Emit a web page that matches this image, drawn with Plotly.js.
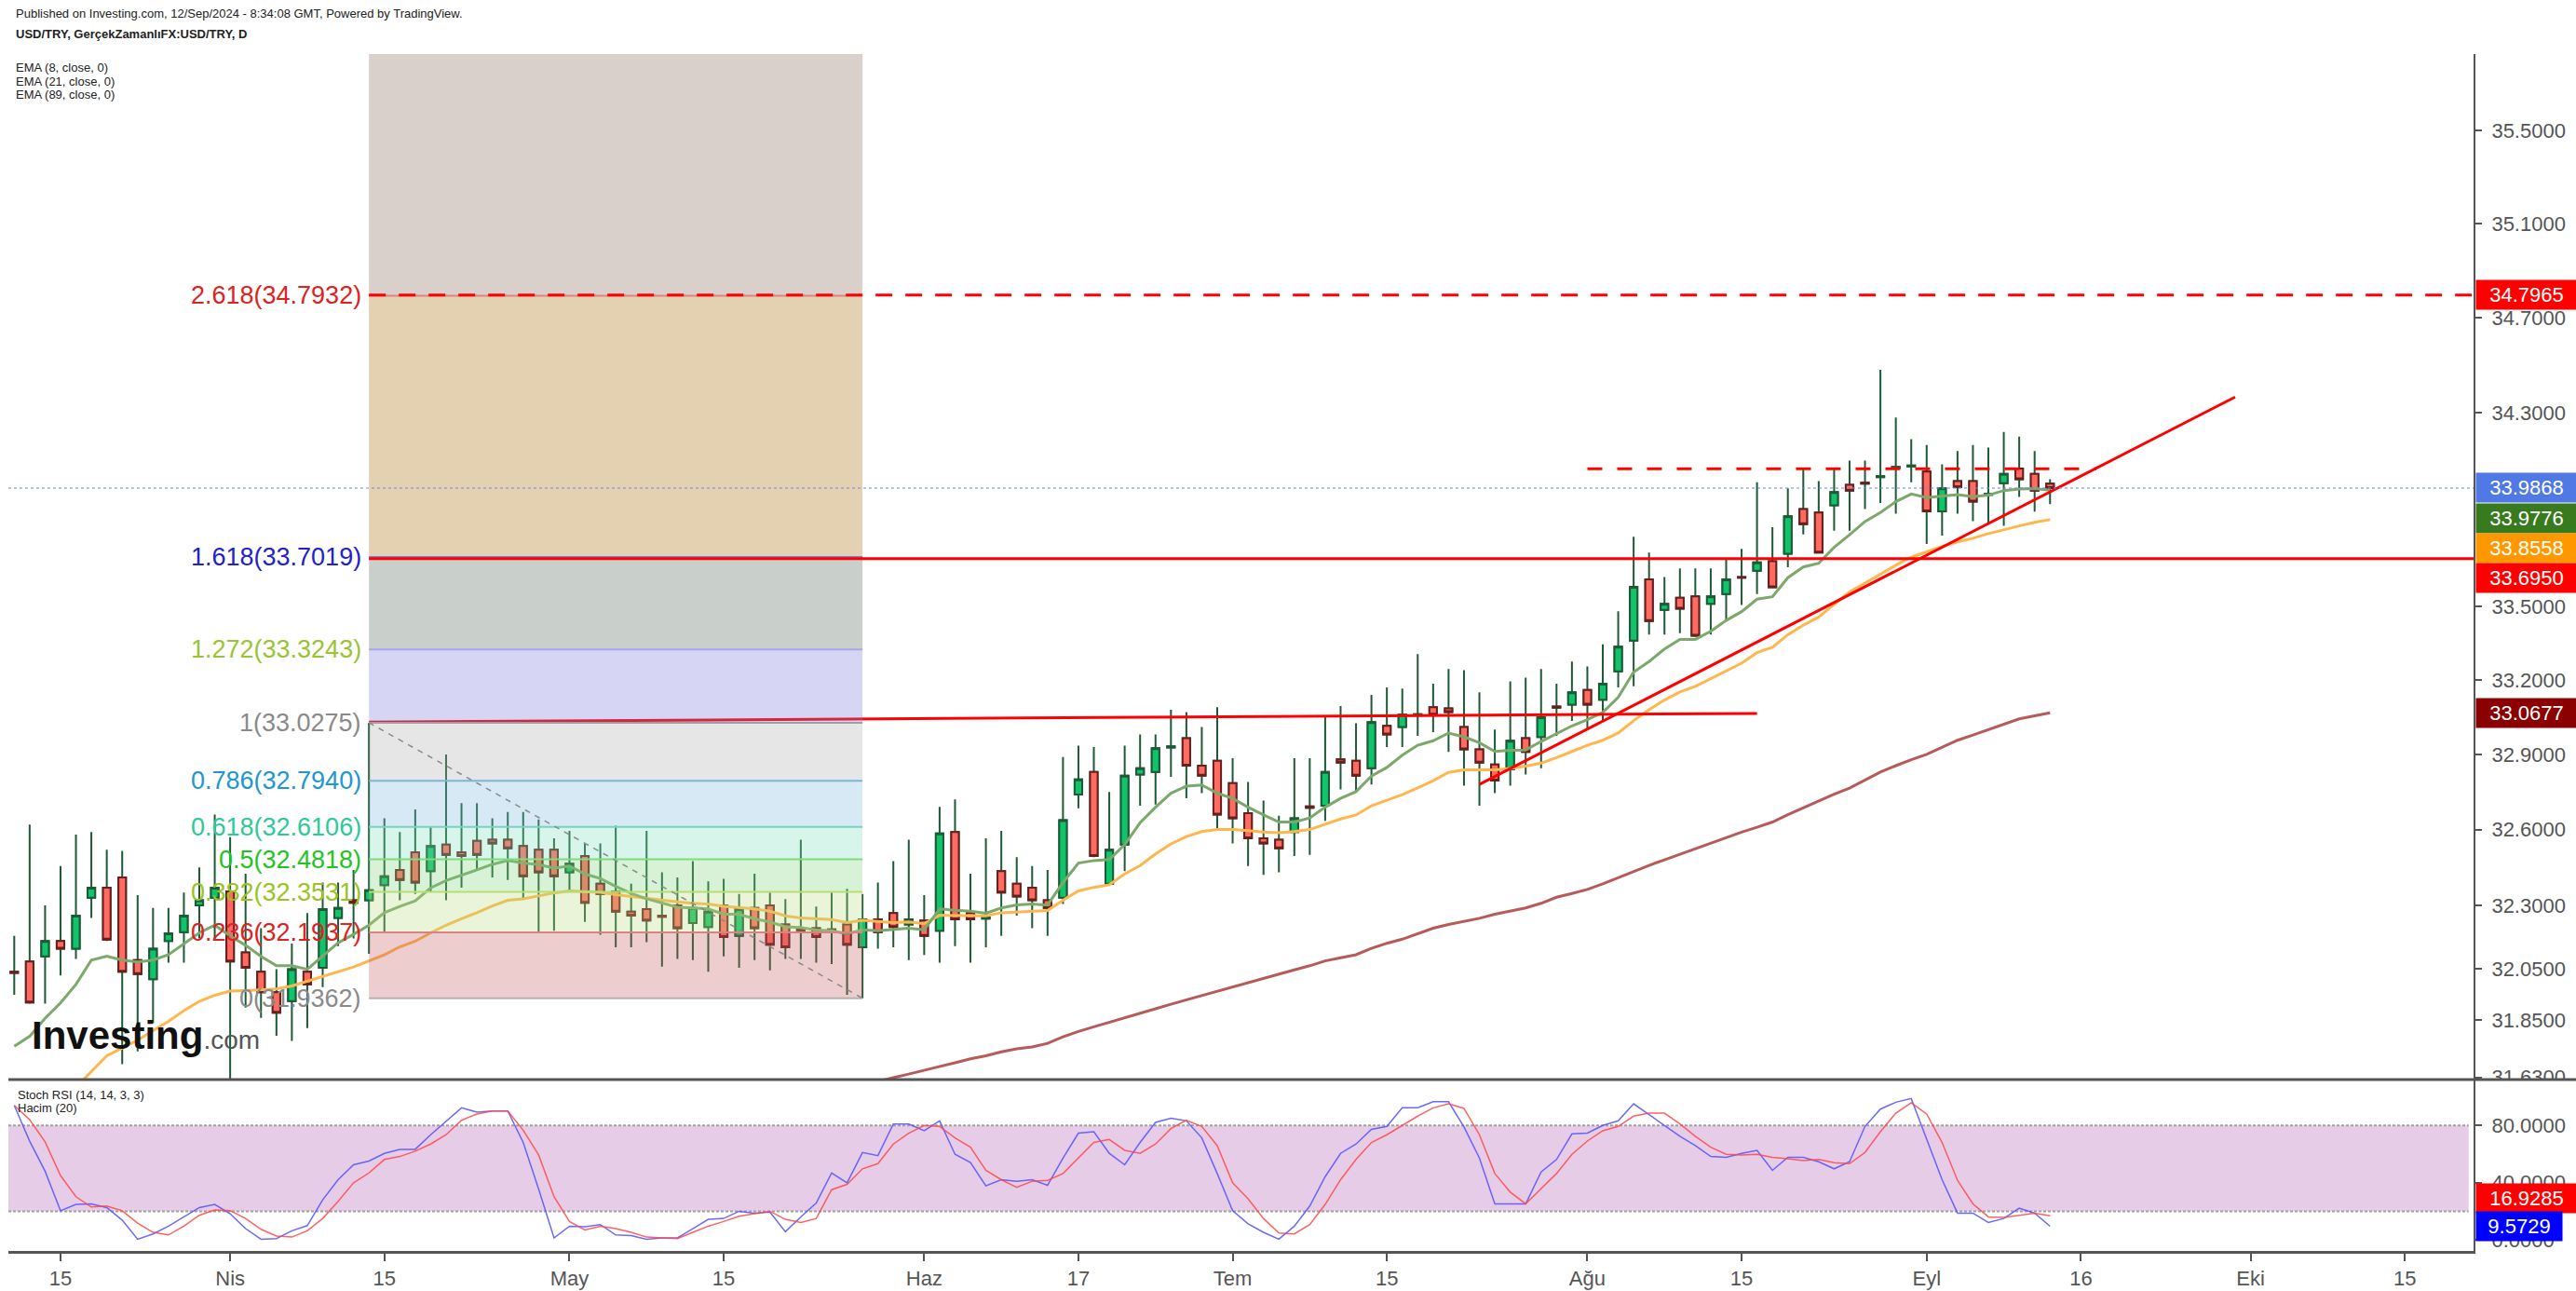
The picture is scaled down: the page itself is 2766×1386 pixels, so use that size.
<!DOCTYPE html>
<html><head><meta charset="utf-8">
<script src="https://cdn.plot.ly/plotly-3.0.1.min.js"></script>
<style>html,body{margin:0;padding:0;background:#fff;}#chart{width:2766px;height:1386px;}</style>
</head><body><div id="chart"></div>
<script>
// ---------- DATA ----------
const dates = [
"2024-03-12","2024-03-13","2024-03-14","2024-03-15","2024-03-18","2024-03-19","2024-03-20","2024-03-21","2024-03-22","2024-03-25","2024-03-26","2024-03-27","2024-03-28","2024-03-29",
"2024-04-01","2024-04-02","2024-04-03","2024-04-04","2024-04-05","2024-04-08","2024-04-09","2024-04-10","2024-04-11","2024-04-12","2024-04-15","2024-04-16","2024-04-17","2024-04-18","2024-04-19","2024-04-22","2024-04-23","2024-04-24","2024-04-25","2024-04-26","2024-04-29","2024-04-30",
"2024-05-01","2024-05-02","2024-05-03","2024-05-06","2024-05-07","2024-05-08","2024-05-09","2024-05-10","2024-05-13","2024-05-14","2024-05-15","2024-05-16","2024-05-17","2024-05-20","2024-05-21","2024-05-22","2024-05-23","2024-05-24","2024-05-27","2024-05-28","2024-05-29","2024-05-30","2024-05-31",
"2024-06-03","2024-06-04","2024-06-05","2024-06-06","2024-06-07","2024-06-10","2024-06-11","2024-06-12","2024-06-13","2024-06-14","2024-06-17","2024-06-18","2024-06-19","2024-06-20","2024-06-21","2024-06-24","2024-06-25","2024-06-26","2024-06-27","2024-06-28",
"2024-07-01","2024-07-02","2024-07-03","2024-07-04","2024-07-05","2024-07-08","2024-07-09","2024-07-10","2024-07-11","2024-07-12","2024-07-15","2024-07-16","2024-07-17","2024-07-18","2024-07-19","2024-07-22","2024-07-23","2024-07-24","2024-07-25","2024-07-26","2024-07-29","2024-07-30","2024-07-31",
"2024-08-01","2024-08-02","2024-08-05","2024-08-06","2024-08-07","2024-08-08","2024-08-09","2024-08-12","2024-08-13","2024-08-14","2024-08-15","2024-08-16","2024-08-19","2024-08-20","2024-08-21","2024-08-22","2024-08-23","2024-08-26","2024-08-27","2024-08-28","2024-08-29","2024-08-30",
"2024-09-02","2024-09-03","2024-09-04","2024-09-05","2024-09-06","2024-09-09","2024-09-10","2024-09-11","2024-09-12"];

const open = [32.04,32.08,32.10,32.16,32.13,32.33,32.37,32.41,32.085,32.01,32.16,32.195,32.30,32.33,
32.355,32.115,32.04,31.96,31.925,32.04,32.055,32.25,32.32,32.32,32.38,32.44,32.51,32.435,32.54,32.51,32.555,32.56,32.56,32.535,32.52,32.52,
32.43,32.495,32.385,32.355,32.275,32.285,32.26,32.30,32.23,32.215,32.30,32.18,32.29,32.30,32.225,32.21,32.21,32.206,32.225,32.135,32.245,32.27,32.225,
32.24,32.20,32.59,32.27,32.248,32.435,32.385,32.37,32.32,32.33,32.74,32.83,32.385,32.54,32.82,32.83,32.928,32.965,32.855,32.875,
32.785,32.665,32.565,32.56,32.59,32.692,32.695,32.88,32.875,32.845,33.015,33.01,33.058,33.09,33.085,33.01,32.92,32.86,32.84,32.965,32.97,33.093,33.10,
33.16,33.12,33.235,33.36,33.61,33.485,33.535,33.54,33.51,33.55,33.62,33.645,33.685,33.715,33.90,33.885,33.915,34.00,34.009,34.032,34.07,34.076,
34.055,33.89,34.015,34.015,33.958,34.007,34.068,34.045,34.005];

const high = [32.18,32.62,32.30,32.455,32.58,32.59,32.52,32.515,32.34,32.29,32.29,32.35,32.45,32.66,
32.57,32.425,32.21,32.05,32.15,32.27,32.39,32.39,32.44,33.0275,32.645,32.59,32.68,32.61,32.90,32.705,32.705,32.645,32.67,32.67,32.64,32.565,
32.595,32.545,32.545,32.615,32.385,32.595,32.43,32.41,32.475,32.395,32.405,32.345,32.425,32.35,32.325,32.56,32.295,32.35,32.365,32.345,32.39,32.475,32.56,
32.34,32.69,32.72,32.425,32.565,32.595,32.49,32.455,32.44,32.89,32.935,32.93,32.75,32.935,32.98,32.98,33.08,33.07,33.01,33.09,
32.885,32.79,32.715,32.655,32.885,32.885,33.05,33.095,33.025,33.14,33.17,33.165,33.305,33.185,33.245,33.24,33.15,33.00,33.195,33.21,33.245,33.185,33.275,
33.255,33.345,33.48,33.785,33.72,33.62,33.655,33.655,33.655,33.695,33.735,34.01,33.825,33.985,34.07,34.015,34.07,34.10,34.10,34.48,34.28,34.19,
34.165,34.085,34.14,34.165,34.155,34.22,34.20,34.14,34.023];

const low = [31.95,31.915,31.915,32.025,32.09,32.25,32.16,31.68,31.73,31.84,32.075,32.075,32.17,32.165,
31.60,31.90,31.86,31.79,31.77,31.82,31.98,32.14,32.17,32.11,32.19,32.32,32.345,32.355,32.32,32.37,32.44,32.41,32.40,32.325,32.195,32.20,
32.355,32.235,32.185,32.135,32.135,32.155,32.06,32.09,32.085,32.04,32.10,32.055,32.085,32.045,32.09,32.09,32.075,32.07,31.95,31.9362,32.13,32.135,32.085,
32.105,32.075,32.14,32.075,32.135,32.18,32.26,32.21,32.18,32.305,32.685,32.49,32.38,32.435,32.695,32.70,32.81,32.725,32.745,32.605,
32.545,32.455,32.42,32.43,32.495,32.50,32.635,32.76,32.75,32.78,32.93,32.93,32.975,32.99,32.91,32.775,32.695,32.745,32.775,32.82,32.845,32.975,33.035,
33.00,33.035,33.17,33.175,33.385,33.385,33.39,33.375,33.385,33.44,33.505,33.55,33.577,33.66,33.795,33.72,33.81,33.81,33.90,33.925,33.88,34.01,
33.755,33.79,33.88,33.85,33.835,33.83,33.95,33.889,33.92];

const close = [32.035,31.92,32.16,32.13,32.26,32.37,32.165,32.04,32.03,32.13,32.19,32.26,32.32,32.37,
32.08,32.055,31.96,31.88,32.05,31.99,32.285,32.29,32.31,32.36,32.415,32.40,32.39,32.535,32.50,32.495,32.50,32.545,32.525,32.415,32.43,32.415,
32.465,32.31,32.345,32.275,32.26,32.24,32.255,32.21,32.29,32.275,32.175,32.285,32.21,32.145,32.135,32.20,32.175,32.204,32.145,32.245,32.195,32.215,32.245,
32.18,32.585,32.245,32.245,32.252,32.35,32.335,32.32,32.29,32.637,32.80,32.495,32.52,32.815,32.845,32.925,32.933,32.855,32.815,32.66,
32.645,32.565,32.545,32.525,32.645,32.687,32.83,32.867,32.815,33.03,32.98,33.06,33.062,33.06,33.07,32.92,32.867,32.795,32.955,32.91,33.05,33.088,33.15,
33.10,33.185,33.335,33.58,33.44,33.51,33.49,33.38,33.54,33.61,33.617,33.68,33.578,33.87,33.837,33.72,33.97,33.976,34.005,34.036,34.074,34.08,
33.89,33.985,33.99,33.93,33.962,34.045,34.023,33.976,33.9868];

const ema8 = [31.750,31.788,31.858,31.918,31.990,32.085,32.100,32.085,32.078,32.085,32.106,32.149,32.192,32.222,
32.180,32.143,32.100,32.063,32.063,32.049,32.100,32.153,32.186,32.222,32.271,32.296,32.318,32.369,32.398,32.418,32.440,32.462,32.477,32.467,32.461,32.447,
32.455,32.424,32.406,32.375,32.347,32.326,32.310,32.293,32.290,32.286,32.265,32.265,32.247,32.235,32.216,32.213,32.203,32.200,32.188,32.204,32.200,32.204,32.210,
32.204,32.286,32.281,32.277,32.269,32.290,32.302,32.305,32.301,32.390,32.467,32.477,32.481,32.540,32.627,32.689,32.745,32.773,32.778,32.745,
32.724,32.689,32.658,32.630,32.630,32.646,32.689,32.724,32.751,32.813,32.848,32.897,32.937,32.955,32.986,32.971,32.947,32.912,32.917,32.918,32.952,32.984,33.015,
33.040,33.069,33.130,33.232,33.275,33.326,33.365,33.365,33.398,33.442,33.478,33.529,33.539,33.617,33.661,33.676,33.742,33.793,33.848,33.885,33.930,33.962,
33.947,33.954,33.959,33.951,33.957,33.976,33.982,33.984,33.9776];

const ema21 = [null,null,null,31.53,31.59,31.653,31.713,31.743,31.773,31.810,31.846,31.888,31.924,31.948,
31.964,31.966,31.969,31.972,31.984,32.003,32.021,32.039,32.058,32.082,32.106,32.137,32.159,32.192,32.222,32.247,32.271,32.298,32.320,32.326,32.338,32.349,
32.357,32.354,32.351,32.342,32.335,32.326,32.320,32.314,32.308,32.305,32.296,32.290,32.286,32.277,32.259,32.250,32.247,32.244,32.232,32.241,32.237,32.232,32.235,
32.228,32.261,32.261,32.259,32.259,32.271,32.274,32.277,32.280,32.320,32.357,32.371,32.381,32.424,32.457,32.503,32.543,32.572,32.592,32.600,
32.600,32.596,32.590,32.587,32.592,32.600,32.621,32.642,32.658,32.695,32.717,32.739,32.766,32.795,32.828,32.838,32.838,32.838,32.844,32.853,32.865,32.887,32.912,
32.937,32.957,32.986,33.036,33.080,33.119,33.152,33.174,33.206,33.239,33.268,33.311,33.333,33.384,33.423,33.456,33.507,33.559,33.595,33.632,33.668,33.701,
33.724,33.745,33.764,33.779,33.798,33.815,33.830,33.845,33.8558];

const ema89 = [null,null,null,null,null,null,null,null,null,null,null,null,null,null,
null,null,null,null,null,null,null,null,null,null,null,null,null,null,null,null,null,null,null,null,null,null,
null,null,null,null,null,null,null,null,null,null,null,null,null,null,null,null,null,null,null,31.600,31.615,31.628,31.642,
31.656,31.670,31.686,31.701,31.713,31.728,31.740,31.747,31.761,31.786,31.807,31.825,31.842,31.860,31.878,31.895,31.913,31.930,31.947,31.963,
31.980,31.996,32.013,32.030,32.047,32.063,32.082,32.094,32.106,32.131,32.151,32.167,32.188,32.210,32.225,32.237,32.249,32.265,32.277,32.290,32.308,32.332,32.347,
32.363,32.385,32.410,32.435,32.458,32.480,32.502,32.523,32.545,32.566,32.590,32.609,32.630,32.659,32.687,32.712,32.741,32.765,32.798,32.829,32.855,32.879,
32.900,32.929,32.957,32.978,33.000,33.022,33.043,33.055,33.0677];

const stochK = [94.0,69,48,20.4,24.8,25.2,22.6,13.9,0.5,4.2,9.6,16.1,22.6,24.8,
18.3,7.9,0.5,0.9,6.4,10.0,28.0,42.1,52.5,55.1,60.5,63.3,63.3,73.5,83.2,92.3,89.3,90.1,90.1,68.1,35.6,1.4,
9.6,9.2,10.7,3.5,3.1,0.5,1.4,1.4,7.9,14.4,15.0,20.0,18.7,19.4,5.7,16.1,25.8,46.8,39.9,61.1,58.9,81.0,81.0,
76.3,83.2,59.8,54.0,37.8,42.1,41.0,42.1,38.2,57.2,74.6,75.6,60.5,52.5,68.1,82.1,85.0,83.2,71.3,46.4,
20.4,11.3,5.3,0.5,9.6,23.7,44.2,60.5,67.0,77.2,79.3,92.3,92.3,96.6,96.6,78.9,57.2,25.2,25.2,25.2,47.5,56.2,74.1,
74.6,80.0,83.2,95.1,87.5,80.0,72.4,65.9,58.3,57.7,60.5,62.6,48.6,57.7,57.7,54.6,49.7,54.6,79.3,91.4,96.2,98.8,
70.2,42.1,18.7,18.7,12.2,15.0,22.2,18.7,9.5729];

const stochD = [94.0,84,68.5,45,30.2,23.0,23.7,20.4,11.8,5.3,3.5,9.6,17.2,20.9,
20.4,15.0,7.4,2.7,2.0,6.4,15.0,26.9,39.9,46.8,56.2,58.3,62.0,67.0,73.5,83.6,88.0,90.1,90.1,76.7,59.4,30.2,
12.9,7.0,9.6,7.9,5.3,2.0,1.4,0.9,5.3,9.6,12.9,16.5,18.3,20.0,14.4,12.2,15.0,35.1,38.8,49.7,53.3,67.0,74.6,
80.0,79.3,71.3,64.8,48.6,42.1,36.7,41.0,41.6,46.4,57.2,68.1,70.2,62.6,60.5,67.0,77.8,83.6,79.3,65.9,
39.9,28.7,15.0,4.8,4.2,10.7,24.8,42.1,56.2,68.1,73.5,80.0,86.5,92.3,95.1,91.9,73.5,46.4,33.4,25.2,35.6,46.4,59.8,
69.1,76.3,79.3,86.5,88.6,88.6,81.0,72.4,64.8,59.8,59.4,59.8,57.7,56.8,55.5,56.2,54.0,53.3,61.1,75.6,88.6,95.8,
88.0,68.1,41.6,25.2,16.1,15.7,17.2,18.7,16.9285];

// Fibonacci retracement (Apr 12 high -> May 28 low)
const fibLevels = [0,0.236,0.382,0.5,0.618,0.786,1,1.272,1.618,2.618,3.618];
const fibPrices = [31.9362,32.1937,32.3531,32.4818,32.6106,32.7940,33.0275,33.3243,33.7019,34.7932,35.8845];
const fibDates  = ["2024-04-12","2024-05-28"];

// drawn lines
const resistDashed = 34.7965, resistSolid = 33.6950, lastPrice = 33.9868;
const topBandPrice = 34.067, topBandDates = ["2024-08-01","2024-09-17"];
const supportLine = {dates:["2024-04-12","2024-08-16"], prices:[33.03,33.065]};
const trendLine = {dates:["2024-07-23","2024-09-30"], prices:[32.78,34.366]};

// axes
const priceTicks = [31.63,31.85,32.05,32.3,32.6,32.9,33.2,33.5,34.3,34.7,35.1,35.5];
const stochTicks = [0,40,80];
const timeTickDates = ["2024-03-15","2024-04-01","2024-04-15","2024-05-01","2024-05-15","2024-06-03","2024-06-17","2024-07-01","2024-07-15","2024-08-01","2024-08-15","2024-09-02","2024-09-16","2024-10-01","2024-10-15"];
const timeTickText  = ["15","Nis","15","May","15","Haz","17","Tem","15","Ağu","15","Eyl","16","Eki","15"];

// ---------- BUILD ----------
const FONT = "Liberation Sans, Arial, sans-serif";
const T = d => d + " 12:00";
const X = dates.map(T);
const xStart = "2024-03-12 02:53", xEnd = "2024-10-21 23:02";
const L10 = v => Math.log10(v);

const bodyHi = open.map((o,i)=>Math.max(o,close[i]));
const bodyLo = open.map((o,i)=>Math.min(o,close[i]));

const traces = [];
traces.push({type:"candlestick", x:X, open:open, high:high, low:low, close:close,
  increasing:{line:{color:"#1d5b36",width:2}, fillcolor:"#1d5b36"},
  decreasing:{line:{color:"#1d5b36",width:2}, fillcolor:"#1d5b36"},
  whiskerwidth:0, hoverinfo:"skip", xaxis:"x", yaxis:"y"});
traces.push({type:"candlestick", x:X, open:open, high:bodyHi, low:bodyLo, close:close,
  increasing:{line:{color:"#1d5b36",width:2}, fillcolor:"#10c46c"},
  decreasing:{line:{color:"#6b1e1e",width:2}, fillcolor:"#ff6b61"},
  whiskerwidth:0, hoverinfo:"skip", xaxis:"x", yaxis:"y"});
const emaLine = (y,c)=>({type:"scatter", mode:"lines", x:X, y:y, line:{color:c,width:3}, hoverinfo:"skip", connectgaps:false});
traces.push(emaLine(ema89,"#b65a5a"));
traces.push(emaLine(ema21,"#ffb74d"));
traces.push(emaLine(ema8,"#7ca86b"));
traces.push({type:"scatter", mode:"lines", x:supportLine.dates.map(T), y:supportLine.prices, line:{color:"#ff0000",width:3}, hoverinfo:"skip"});
const bandFill = ["rgba(195,88,88,0.3)","rgba(183,218,125,0.3)","rgba(125,212,125,0.3)","rgba(122,222,185,0.3)","rgba(118,182,218,0.3)",
  "rgba(172,172,172,0.3)","rgba(118,118,218,0.3)","rgba(75,95,82,0.3)","rgba(162,102,0,0.3)","rgba(128,98,82,0.3)"];
const fx0 = T(fibDates[0]), fx1 = T(fibDates[1]);
for (let k=0;k<fibPrices.length-1;k++){
  const a=fibPrices[k], b=fibPrices[k+1];
  traces.push({type:"scatter", mode:"lines", x:[fx0,fx1,fx1,fx0,fx0], y:[a,a,b,b,a], fill:"toself",
    fillcolor:bandFill[k], line:{width:0}, hoverinfo:"skip"});
}
const levelLineColor = ["#b8b0b0","#d98282","#b5df73","#7edc7e","#73d5c1","#7ab6d9","#a0a0a0","#a8a8e8","#7a7ae0","#e08080","#b0a0a0"];
for (let k=0;k<fibPrices.length-1;k++){
  traces.push({type:"scatter", mode:"lines", x:[fx0,fx1], y:[fibPrices[k],fibPrices[k]], line:{color:levelLineColor[k],width:2}, hoverinfo:"skip"});
}
traces.push({type:"scatter", mode:"lines", x:[fx0,fx1], y:[fibPrices[6],fibPrices[0]], line:{color:"#8a8a8a",width:1.5,dash:"6px,6px"}, hoverinfo:"skip"});
traces.push({type:"scatter", mode:"lines", x:[fx0,xEnd], y:[resistSolid,resistSolid], line:{color:"#ff0000",width:3}, hoverinfo:"skip"});
traces.push({type:"scatter", mode:"lines", x:[fx0,xEnd], y:[resistDashed,resistDashed], line:{color:"#ff0000",width:3,dash:"18px,14px"}, hoverinfo:"skip"});
traces.push({type:"scatter", mode:"lines", x:topBandDates.map(T), y:[topBandPrice,topBandPrice], line:{color:"#ff0000",width:3,dash:"16px,16px"}, hoverinfo:"skip"});
traces.push({type:"scatter", mode:"lines", x:trendLine.dates.map(T), y:trendLine.prices, line:{color:"#ff0000",width:3}, hoverinfo:"skip"});
traces.push({type:"scatter", mode:"lines", x:[xStart,xEnd], y:[lastPrice,lastPrice], line:{color:"rgba(110,140,230,0.7)",width:1.5,dash:"dot"}, hoverinfo:"skip"});
traces.push({type:"scatter", mode:"lines", x:X, y:stochK, line:{color:"rgba(80,80,255,0.85)",width:1.5}, xaxis:"x", yaxis:"y2", hoverinfo:"skip"});
traces.push({type:"scatter", mode:"lines", x:X, y:stochD, line:{color:"rgba(255,70,70,0.85)",width:1.5}, xaxis:"x", yaxis:"y2", hoverinfo:"skip"});

// ---------- ANNOTATIONS ----------
const ann = [];
const fibColors = ["#8a8a8a","#dd2222","#99c422","#22c422","#2ec99a","#2196d3","#8a8a8a","#99c433","#2222cc","#dd2222"];
for (let k=0;k<fibPrices.length-1;k++){
  ann.push({xref:"x", yref:"y", x:fx0, y:L10(fibPrices[k]), xanchor:"right", yanchor:"middle", xshift:-6,
    text:fibLevels[k]+"("+fibPrices[k].toFixed(4)+")", showarrow:false, font:{family:FONT,size:27,color:fibColors[k]}});
}
const priceBox = (v,bg,shift,w)=>({xref:"paper", yref:"y", x:1, y:L10(v), xanchor:"left", yanchor:"middle", xshift:2, yshift:shift,
  text:v.toFixed(4), showarrow:false, bgcolor:bg, width:w||104, height:27, borderpad:2, align:"center",
  font:{family:FONT,size:22,color:"#ffffff"}});
ann.push(priceBox(resistDashed,"#ff0000",0));
ann.push(priceBox(lastPrice,"#5079e6",0));
ann.push(priceBox(ema8[ema8.length-1],"#387a1e",-30));
ann.push(priceBox(ema21[ema21.length-1],"#ff9800",-30.5));
ann.push(priceBox(resistSolid,"#ff0000",-21));
ann.push(priceBox(ema89[ema89.length-1],"#8b0000",0));
const stochBox = (v,bg,shift,w)=>({xref:"paper", yref:"y2", x:1, y:v, xanchor:"left", yanchor:"middle", xshift:2, yshift:shift,
  text:v.toFixed(4), showarrow:false, bgcolor:bg, width:w, height:27, borderpad:2, align:"center",
  font:{family:FONT,size:22,color:"#ffffff"}});
ann.push(stochBox(stochD[stochD.length-1],"#ff0000",19,104));
ann.push(stochBox(stochK[stochK.length-1],"#0000ff",0,88));

const px = v => (v-9)/2647, py = v => (1343-v)/1285;
const txt = (s,x,y,size,extra)=>Object.assign({xref:"paper",yref:"paper",x:px(x),y:py(y),xanchor:"left",yanchor:"middle",showarrow:false,
  text:s,font:{family:FONT,size:size,color:"#222"}},extra||{});
ann.push(txt("Published on Investing.com, 12/Sep/2024 - 8:34:08 GMT, Powered by TradingView.",15,14.5,13));
ann.push(txt("<b>USD/TRY, GerçekZamanlıFX:USD/TRY, D</b>",15,36,13));
ann.push(txt("EMA (8, close, 0)",15,73,13));
ann.push(txt("EMA (21, close, 0)",15,87,13));
ann.push(txt("EMA (89, close, 0)",15,101,13));
ann.push(txt("Stoch RSI (14, 14, 3, 3)",17,1175,13));
ann.push(txt("Hacim (20)",17,1189,13));
ann.push(txt('<b>Investing</b><span style="font-size:28px;color:#555">.com</span>',32,1111,42,{font:{family:FONT,size:42,color:"#111"}}));

// ---------- SHAPES (paper / linear axes only) ----------
const shapes = [
  {type:"rect", xref:"paper", yref:"y2", x0:0, x1:0.998, y0:20, y1:80, fillcolor:"#e6cce6", line:{width:0}, layer:"below"},
  {type:"line", xref:"paper", yref:"y2", x0:0, x1:0.998, y0:80, y1:80, line:{color:"#a0a0a0",width:2,dash:"3px,2px"}, layer:"below"},
  {type:"line", xref:"paper", yref:"y2", x0:0, x1:0.998, y0:20, y1:20, line:{color:"#a0a0a0",width:2,dash:"3px,2px"}, layer:"below"},
  {type:"rect", xref:"paper", yref:"paper", x0:px(2660), x1:px(2766), y0:py(1172), y1:py(1160), fillcolor:"#ffffff", line:{width:0}, layer:"above"},
  {type:"line", xref:"paper", yref:"paper", x0:0, x1:px(2766), y0:py(1159), y1:py(1159), line:{color:"#555",width:3}, layer:"above"}
];

const axFont = {family:FONT,size:22,color:"#555"};
const layout = {
  width:2766, height:1386, margin:{l:9,r:110,t:58,b:43},
  paper_bgcolor:"#ffffff", plot_bgcolor:"#ffffff", showlegend:false, hovermode:false,
  xaxis:{type:"date", range:[xStart,xEnd], rangebreaks:[{bounds:["sat","mon"]}], anchor:"y2",
    tickmode:"array", tickvals:timeTickDates.map(T), ticktext:timeTickText, ticks:"outside", ticklen:8, tickwidth:2, tickcolor:"#555",
    showline:true, linecolor:"#555", linewidth:3, showgrid:false, zeroline:false, tickfont:axFont, rangeslider:{visible:false}, fixedrange:true},
  yaxis:{domain:[0.14319,1], type:"log", range:[L10(31.621),L10(35.834)], side:"right", anchor:"x",
    tickmode:"array", tickvals:priceTicks, ticktext:priceTicks.map(v=>v.toFixed(4)), ticks:"outside", ticklen:7, tickwidth:2, tickcolor:"#555",
    showline:true, linecolor:"#555", linewidth:2, showgrid:false, zeroline:false, tickfont:axFont, ticklabelstandoff:6, fixedrange:true},
  yaxis2:{domain:[0,0.14241], range:[-7.7,111.4], side:"right", anchor:"x",
    tickmode:"array", tickvals:stochTicks, ticktext:stochTicks.map(v=>v.toFixed(4)), ticks:"outside", ticklen:7, tickwidth:2, tickcolor:"#555",
    showline:true, linecolor:"#555", linewidth:2, showgrid:false, zeroline:false, tickfont:axFont, ticklabelstandoff:6, fixedrange:true},
  annotations:ann, shapes:shapes
};
Plotly.newPlot("chart", traces, layout, {staticPlot:true, displayModeBar:false});
</script></body></html>
